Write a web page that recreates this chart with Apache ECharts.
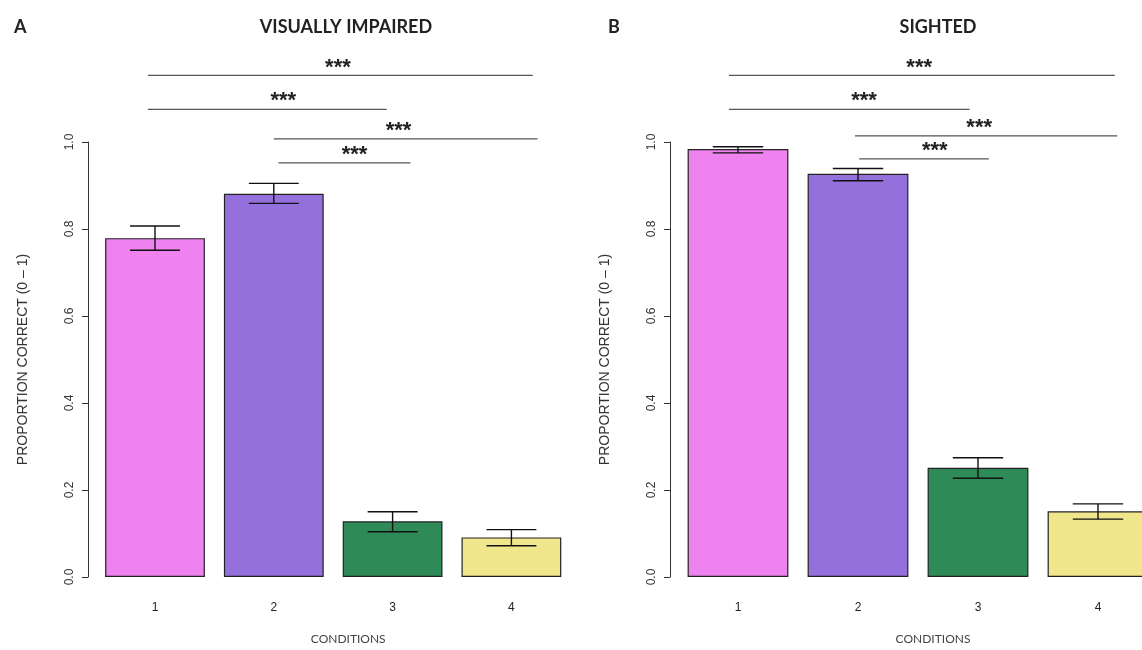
<!DOCTYPE html>
<html>
<head>
<meta charset="utf-8">
<title>Proportion correct by condition</title>
<script src="https://cdn.jsdelivr.net/npm/echarts@6/dist/echarts.min.js"></script>
<style>
  html, body { margin: 0; padding: 0; background: #fff; overflow: hidden; }
  /* a bit wider than the window: the last bar of panel B runs off the right edge */
  #chart { width: 1160px; height: 650px; }
</style>
</head>
<body>
<div id="chart"></div>
<script>
// conditions on the x axis
var categories = ["1", "2", "3", "4"];
var barColors = ["#EE82EE", "#9370DB", "#2E8B57", "#F0E68C"];

// panel A - visually impaired
var impairedMean = [0.779, 0.881, 0.128, 0.091];
var impairedLow = [0.751, 0.859, 0.104, 0.072];
var impairedHigh = [0.807, 0.905, 0.150, 0.109];

// panel B - sighted
var sightedMean = [0.984, 0.927, 0.251, 0.151];
var sightedLow = [0.975, 0.911, 0.227, 0.133];
var sightedHigh = [0.989, 0.939, 0.274, 0.168];

// significance brackets: [from, to, level, star position] (x in condition index units)
var impairedSig = [
  [-0.06, 3.18, 1.153, 1.54],
  [-0.06, 1.95, 1.075, 1.08],
  [1.00, 3.22, 1.007, 2.05],
  [1.04, 2.15, 0.952, 1.68]
];
var sightedSig = [
  [-0.075, 3.14, 1.153, 1.51],
  [-0.075, 1.93, 1.075, 1.05],
  [0.975, 3.16, 1.014, 2.01],
  [1.01, 2.09, 0.961, 1.64]
];

var tickFont = "'Liberation Sans', Arial, sans-serif";
var labelFont = "Lato, 'Open Sans', sans-serif";

function barData(values) {
  return values.map(function (v, i) {
    return { value: v, itemStyle: { color: barColors[i] } };
  });
}

function errData(low, high) {
  return low.map(function (l, i) { return [i, l, high[i]]; });
}

// error bars drawn on the hidden value x axis (same scale as the categories)
function renderError(params, api) {
  var lo = api.coord([api.value(0), api.value(1)]);
  var hi = api.coord([api.value(0), api.value(2)]);
  var half = api.size([1, 0])[0] * 0.21;
  var style = { stroke: "#111", lineWidth: 1.4 };
  return {
    type: "group",
    children: [
      { type: "line", shape: { x1: lo[0], y1: lo[1], x2: hi[0], y2: hi[1] }, style: style },
      { type: "line", shape: { x1: hi[0] - half, y1: hi[1], x2: hi[0] + half, y2: hi[1] }, style: style },
      { type: "line", shape: { x1: lo[0] - half, y1: lo[1], x2: lo[0] + half, y2: lo[1] }, style: style }
    ]
  };
}

function renderSig(params, api) {
  var a = api.coord([api.value(0), api.value(2)]);
  var b = api.coord([api.value(1), api.value(2)]);
  var s = api.coord([api.value(3), api.value(2)]);
  return {
    type: "group",
    children: [
      { type: "line", shape: { x1: a[0], y1: a[1], x2: b[0], y2: b[1] }, style: { stroke: "#555", lineWidth: 1.2 } },
      { type: "text", x: s[0], y: s[1] - 8, style: {
          text: "***", fill: "#222", font: "bold 22px " + tickFont,
          textAlign: "center", textVerticalAlign: "middle" } }
    ]
  };
}

function yAxisFor(gridIndex, offset) {
  return {
    type: "value", gridIndex: gridIndex, min: 0, max: 1, interval: 0.2,
    offset: offset,
    name: "PROPORTION CORRECT (0 \u2013 1)", nameLocation: "middle", nameGap: 58,
    nameTextStyle: { fontFamily: tickFont, fontSize: 14, color: "#333" },
    axisLine: { show: true, onZero: false, lineStyle: { color: "#333", width: 1 } },
    axisTick: { show: true, length: 6, lineStyle: { color: "#333" } },
    axisLabel: { rotate: 90, margin: 12, fontFamily: tickFont, fontSize: 12, color: "#333",
      formatter: function (v) { return v.toFixed(1); } },
    splitLine: { show: false }
  };
}

function xAxisFor(gridIndex) {
  return {
    type: "category", gridIndex: gridIndex, data: categories,
    name: "CONDITIONS", nameLocation: "middle", nameGap: 56,
    nameTextStyle: { fontFamily: labelFont, fontSize: 12, color: "#444", padding: [0, 0, 0, 30] },
    axisLine: { show: false }, axisTick: { show: false },
    axisLabel: { margin: 25, fontFamily: tickFont, fontSize: 12, color: "#222" }
  };
}

function overlayAxis(gridIndex) {
  return { type: "value", gridIndex: gridIndex, min: -0.5, max: 3.5, show: false, position: "top" };
}

var titleStyle = { fontFamily: labelFont, fontSize: 18, fontWeight: "bold", color: "#222" };

var option = {
  backgroundColor: "#fff",
  animation: false,
  title: [
    { text: "A", left: 9, top: 13, textStyle: titleStyle },
    { text: "VISUALLY IMPAIRED", left: 341, top: 13, textAlign: "center", textStyle: titleStyle },
    { text: "B", left: 603, top: 13, textStyle: titleStyle },
    { text: "SIGHTED", left: 933, top: 13, textAlign: "center", textStyle: titleStyle }
  ],
  grid: [
    { left: 95.6, width: 475.2, top: 142, bottom: 70 },
    { left: 678, width: 480, top: 142, bottom: 70 }
  ],
  xAxis: [xAxisFor(0), xAxisFor(1), overlayAxis(0), overlayAxis(1)],
  yAxis: [yAxisFor(0, 7.6), yAxisFor(1, 8)],
  series: [
    { type: "bar", xAxisIndex: 0, yAxisIndex: 0, barWidth: "84%", data: barData(impairedMean),
      itemStyle: { borderColor: "#222", borderWidth: 1.2 } },
    { type: "bar", xAxisIndex: 1, yAxisIndex: 1, barWidth: "84%", data: barData(sightedMean),
      itemStyle: { borderColor: "#222", borderWidth: 1.2 } },
    { type: "custom", xAxisIndex: 2, yAxisIndex: 0, z: 5, renderItem: renderError, data: errData(impairedLow, impairedHigh) },
    { type: "custom", xAxisIndex: 3, yAxisIndex: 1, z: 5, renderItem: renderError, data: errData(sightedLow, sightedHigh) },
    { type: "custom", xAxisIndex: 2, yAxisIndex: 0, z: 5, renderItem: renderSig, data: impairedSig },
    { type: "custom", xAxisIndex: 3, yAxisIndex: 1, z: 5, renderItem: renderSig, data: sightedSig }
  ]
};

var myChart = echarts.init(document.getElementById("chart"));
myChart.setOption(option);
</script>
</body>
</html>
